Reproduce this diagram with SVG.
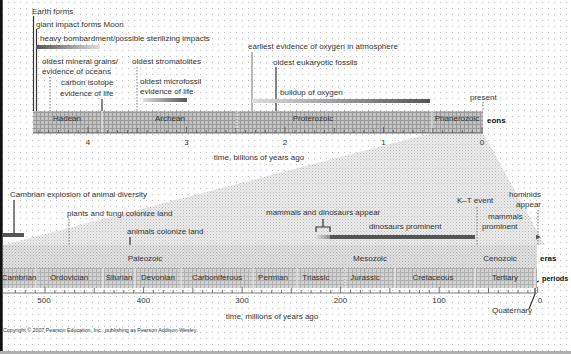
<svg xmlns="http://www.w3.org/2000/svg" width="571" height="354" viewBox="0 0 571 354">
<defs>
<pattern id="grid" width="6" height="6" patternUnits="userSpaceOnUse"><rect x="2" y="2" width="1" height="1" fill="#bdbdbd"/></pattern>
<pattern id="plaid" width="4" height="4" patternUnits="userSpaceOnUse"><rect width="4" height="4" fill="#c2c2c2"/><rect width="4" height="1" fill="#9a9a9a"/><rect width="1" height="4" fill="#9a9a9a"/></pattern>
<pattern id="wedge" width="3" height="3" patternUnits="userSpaceOnUse"><rect width="3" height="3" fill="#ececec"/><rect width="1" height="1" fill="#b8b8b8"/><rect x="1.5" y="1.5" width="1" height="1" fill="#c8c8c8"/></pattern>
<pattern id="eras" width="3" height="3" patternUnits="userSpaceOnUse"><rect width="3" height="3" fill="#e2e2e2"/><rect width="1" height="1" fill="#a8a8a8"/><rect x="1.5" y="1.5" width="1" height="1" fill="#b5b5b5"/></pattern>
<pattern id="periods" width="4" height="4" patternUnits="userSpaceOnUse"><rect width="4" height="4" fill="#d2d2d2"/><rect width="4" height="1" fill="#b0b0b0"/><rect width="1" height="4" fill="#b0b0b0"/></pattern>
<linearGradient id="darkToLight" x1="0" x2="1" y1="0" y2="0"><stop offset="0" stop-color="#555"/><stop offset="1" stop-color="#ddd"/></linearGradient>
<linearGradient id="lightToDark" x1="0" x2="1" y1="0" y2="0"><stop offset="0" stop-color="#ddd"/><stop offset="1" stop-color="#555"/></linearGradient>
<marker id="arrow" viewBox="0 0 6 6" refX="5" refY="3" markerWidth="5" markerHeight="5" orient="auto" markerUnits="userSpaceOnUse"><path d="M0,0 L6,3 L0,6 z" fill="#555"/></marker>
</defs>
<style>
text{font-family:"Liberation Sans",Arial,sans-serif;font-size:8px;fill:#333}
.b{font-weight:bold;fill:#111}
.m{text-anchor:middle}
.e{text-anchor:end}
.small{font-size:5.3px}
.ln{stroke:#333;stroke-width:1.2;fill:none}
.lg{stroke:#888;stroke-width:1.2;fill:none}
.dt{stroke:#777;stroke-width:1;stroke-dasharray:1.5,1.5;fill:none}
.tick{stroke:#555;stroke-width:0.8}
.sep{stroke:#eee;stroke-width:1}
.sepd{stroke:#f4f4f4;stroke-width:1;stroke-dasharray:2,1}
</style>
<rect width="571" height="354" fill="#fff"/>
<rect width="571" height="354" fill="url(#grid)"/>
<rect x="0" y="0" width="2.7" height="351" fill="#111"/>
<rect x="0" y="351" width="571" height="3" fill="#b0b0b0"/>

<g id="wedge">
<polygon points="432,133 483,133 545,245 3,245" fill="url(#wedge)"/>
</g>

<g id="eon-bar">
<rect x="33" y="111" width="450" height="22" fill="url(#plaid)"/>
<line x1="102" y1="111" x2="102" y2="133" class="sep"/>
<line x1="237" y1="111" x2="237" y2="133" class="sepd"/>
<line x1="432" y1="111" x2="432" y2="133" class="sep"/>
<line x1="33" y1="133" x2="483" y2="133" class="tick"/>
<path class="tick" d="M38.8,133v-3M48.6,133v-3M58.5,133v-3M68.4,133v-3M78.2,133v-3M88,133v-6M97.9,133v-3M107.7,133v-3M117.6,133v-3M127.4,133v-3M137.3,133v-5M147.1,133v-3M157,133v-3M166.8,133v-3M176.7,133v-3M186.5,133v-6M196.4,133v-3M206.2,133v-3M216.1,133v-3M225.9,133v-3M235.8,133v-5M245.6,133v-3M255.5,133v-3M265.3,133v-3M275.2,133v-3M285,133v-6M294.9,133v-3M304.7,133v-3M314.6,133v-3M324.4,133v-3M334.3,133v-5M344.1,133v-3M354,133v-3M363.8,133v-3M373.7,133v-3M383.5,133v-6M393.4,133v-3M403.2,133v-3M413.1,133v-3M422.9,133v-3M432.8,133v-5M442.6,133v-3M452.5,133v-3M462.3,133v-3M472.2,133v-3M482,133v-6"/>
<text x="67" y="121" class="m">Hadean</text>
<text x="170" y="121" class="m">Archean</text>
<text x="313" y="121" class="m">Proterozoic</text>
<text x="457" y="121" class="m">Phanerozoic</text>
<text x="487" y="123" class="b">eons</text>
<text x="88" y="145" class="m">4</text>
<text x="186.5" y="145" class="m">3</text>
<text x="285" y="145" class="m">2</text>
<text x="383.5" y="145" class="m">1</text>
<text x="482" y="145" class="m">0</text>
<text x="259" y="160" class="m">time, billions of years ago</text>
</g>

<g id="connectors">
<line x1="33.5" y1="16" x2="33.5" y2="111" class="ln"/>
<line x1="36.5" y1="29" x2="36.5" y2="111" class="ln"/>
<line x1="50" y1="77" x2="50" y2="111" class="dt"/>
<line x1="102" y1="99" x2="102" y2="111" class="ln"/>
<line x1="137" y1="67" x2="137" y2="111" class="dt"/>
<line x1="252" y1="52" x2="252" y2="111" class="lg"/>
<line x1="276" y1="67" x2="276" y2="111" class="ln"/>
<line x1="483" y1="102" x2="483" y2="111" class="dt"/>
<line x1="14" y1="200" x2="14" y2="234" class="ln"/>
<line x1="69" y1="219" x2="69" y2="245" class="dt"/>
<line x1="130" y1="237" x2="130" y2="245" class="ln"/>
<path d="M316,232 V227 H330 V232 M323,227 V219" class="ln" stroke-width="0.9"/>
<line x1="477" y1="207" x2="477" y2="245" class="dt"/>
<line x1="538" y1="210" x2="538" y2="245" class="dt"/>
<path d="M529,309 L535,294 L535,287 Q535,282 539,281" class="ln" stroke-width="0.8"/>
</g>

<g id="earth-forms"><text x="32" y="14">Earth forms</text></g>
<g id="moon"><text x="36" y="27">giant impact forms Moon</text></g>
<g id="bombardment">
<text x="40" y="41">heavy bombardment/possible sterilizing impacts</text>
<rect x="36" y="45" width="64" height="4" fill="url(#darkToLight)"/>
</g>
<g id="mineral-grains"><text x="42" y="64">oldest mineral grains/</text><text x="42" y="74">evidence of oceans</text></g>
<g id="carbon-isotope"><text x="61" y="85">carbon isotope</text><text x="60" y="96">evidence of life</text></g>
<g id="stromatolites"><text x="132" y="64">oldest stromatolites</text></g>
<g id="microfossil">
<text x="140" y="84">oldest microfossil</text><text x="140" y="94">evidence of life</text>
<rect x="143" y="98" width="44" height="4" fill="url(#lightToDark)"/>
</g>
<g id="oxygen-atm"><text x="248" y="49">earliest evidence of oxygen in atmosphere</text></g>
<g id="eukaryotic"><text x="273" y="65">oldest eukaryotic fossils</text></g>
<g id="oxygen-buildup">
<text x="280" y="95">buildup of oxygen</text>
<rect x="252" y="99" width="178" height="4" fill="url(#lightToDark)"/>
</g>
<g id="present"><text x="470" y="100">present</text></g>

<g id="era-bar">
<rect x="3" y="245" width="534" height="23" fill="url(#eras)"/>
<text x="145" y="261" class="m">Paleozoic</text>
<text x="370" y="261" class="m">Mesozoic</text>
<text x="500" y="261" class="m">Cenozoic</text>
<text x="540" y="261" class="b">eras</text>
</g>

<g id="period-bar">
<rect x="3" y="268" width="534" height="20" fill="url(#periods)"/>
<path class="sep" d="M36,268V288M103,268V288M135,268V288M181,268V288M253,268V288M297,268V288M395,268V288M475,268V288M535,268V288"/>
<line x1="345" y1="268" x2="345" y2="288" class="sepd"/>
<line x1="3" y1="293" x2="537" y2="293" class="tick" stroke-width="0.5"/>
<path class="tick" d="M15.4,293v-3M25.3,293v-3M35.2,293v-3M45,293v-6M54.9,293v-3M64.7,293v-3M74.6,293v-3M84.4,293v-3M94.3,293v-5M104.1,293v-3M114,293v-3M123.8,293v-3M133.7,293v-3M143.6,293v-6M153.4,293v-3M163.3,293v-3M173.1,293v-3M183,293v-3M192.8,293v-5M202.7,293v-3M212.5,293v-3M222.4,293v-3M232.2,293v-3M242.1,293v-6M252,293v-3M261.8,293v-3M271.7,293v-3M281.5,293v-3M291.4,293v-5M301.2,293v-3M311.1,293v-3M320.9,293v-3M330.8,293v-3M340.6,293v-6M350.5,293v-3M360.4,293v-3M370.2,293v-3M380.1,293v-3M389.9,293v-5M399.8,293v-3M409.6,293v-3M419.5,293v-3M429.3,293v-3M439.2,293v-6M449,293v-3M458.9,293v-3M468.8,293v-3M478.6,293v-3M488.5,293v-5M498.3,293v-3M508.2,293v-3M518,293v-3M527.9,293v-3M537.7,293v-6"/>
<text x="19" y="280" class="m">Cambrian</text>
<text x="69" y="280" class="m">Ordovician</text>
<text x="119" y="280" class="m">Silurian</text>
<text x="158" y="280" class="m">Devonian</text>
<text x="217" y="280" class="m">Carboniferous</text>
<text x="273" y="280" class="m">Permian</text>
<text x="316" y="280" class="m">Triassic</text>
<text x="365" y="280" class="m">Jurassic</text>
<text x="433" y="280" class="m">Cretaceous</text>
<text x="505" y="280" class="m">Tertiary</text>
<text x="542" y="281" class="b" style="font-size:7.3px">periods</text>
<text x="44" y="303" class="m">500</text>
<text x="143.5" y="303" class="m">400</text>
<text x="242" y="303" class="m">300</text>
<text x="340.5" y="303" class="m">200</text>
<text x="439" y="303" class="m">100</text>
<text x="540" y="303" class="m">0</text>
<text x="492" y="313">Quaternary</text>
<text x="272" y="319" class="m">time, millions of years ago</text>
</g>

<g id="cambrian-explosion">
<text x="10" y="197">Cambrian explosion of animal diversity</text>
<rect x="3" y="233" width="21" height="4" fill="#555"/>
</g>
<g id="plants-fungi"><text x="67" y="216">plants and fungi colonize land</text></g>
<g id="animals-land"><text x="127" y="234">animals colonize land</text></g>
<g id="mammals-dinos"><text x="266" y="215">mammals and dinosaurs appear</text>
<rect x="316" y="235" width="14" height="4" fill="url(#lightToDark)" opacity="0.6"/></g>
<g id="dinosaurs"><text x="369" y="229">dinosaurs prominent</text>
<rect x="330" y="235" width="145" height="4" fill="#555"/></g>
<g id="kt-event"><text x="457" y="203">K–T event</text></g>
<g id="hominids"><text x="541" y="197" class="e">hominids</text><text x="541" y="207" class="e">appear</text></g>
<g id="mammals-prominent"><text x="488" y="219">mammals</text><text x="482" y="229">prominent</text>
<line x1="478" y1="237" x2="540" y2="237" stroke="url(#lightToDark)" stroke-width="4" marker-end="url(#arrow)"/></g>

<g id="copyright"><text x="3" y="332" class="small">Copyright © 2007 Pearson Education, Inc., publishing as Pearson Addison-Wesley.</text></g>
</svg>
